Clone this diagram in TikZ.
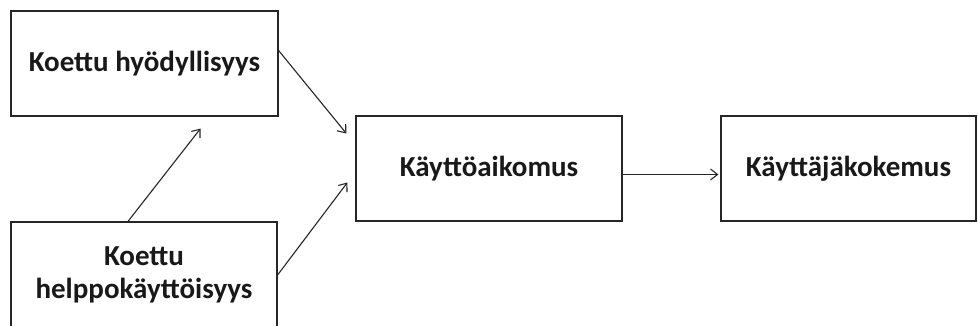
\documentclass[tikz,border=0pt]{standalone}
\usepackage{fontspec}
\setmainfont{Carlito}
\usetikzlibrary{arrows.meta}
\begin{document}
\begin{tikzpicture}[x=1pt,y=-1pt,
  box/.style={draw=black!85, line width=1.2pt, rectangle, inner sep=0pt,
    font=\fontsize{29}{33}\selectfont\bfseries, align=center, text=black!90},
  arr/.style={draw=black!85, line width=1.1pt, -{Straight Barb[length=7pt,width=11pt,line width=1.1pt]}}]
\useasboundingbox[fill=white] (0,0) rectangle (978,326);
\node[box, minimum width=267pt, minimum height=105pt] (b1) at (144.5,63.5) {Koettu hyödyllisyys};
\node[box, minimum width=266pt, minimum height=106pt] (b2) at (144,275) {Koettu\\helppokäyttöisyys};
\node[box, minimum width=266pt, minimum height=105pt] (b3) at (489,168.5) {Käyttöaikomus};
\node[box, minimum width=255pt, minimum height=105pt] (b4) at (848.5,168.5) {Käyttäjäkokemus};
\draw[arr] ([yshift=13pt]b1.east) -- ([xshift=-9pt,yshift=35pt]b3.west);
\draw[arr] (b2.east) -- ([xshift=-8pt,yshift=-14pt]b3.west);
\draw[arr] ([xshift=-16pt]b2.north) -- ([xshift=56pt,yshift=-12pt]b1.south);
\draw[arr] ([yshift=-6pt]b3.east) -- ([xshift=-2pt,yshift=-6pt]b4.west);
\end{tikzpicture}
\end{document}
